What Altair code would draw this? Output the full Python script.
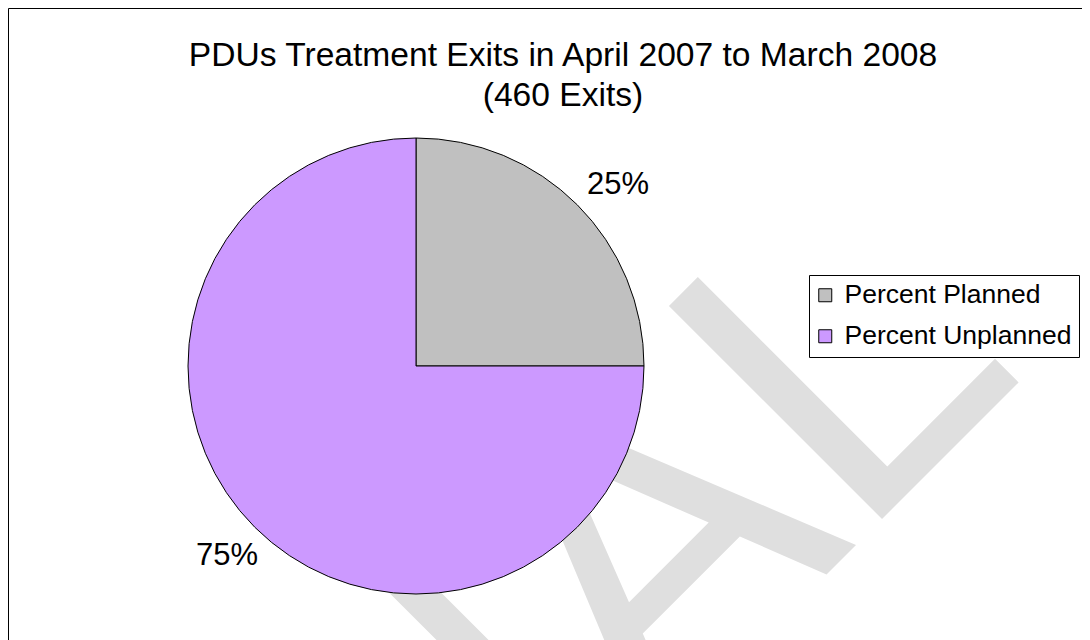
import altair as alt
import pandas as pd

# ---- data ----
categories = ["Percent Planned", "Percent Unplanned"]
values = [25, 75]
labels = ["25%", "75%"]
colors = ["#C0C0C0", "#CC99FF"]
title_lines = ["PDUs Treatment Exits in April 2007 to March 2008", "(460 Exits)"]
watermark = "FINAL"

df = pd.DataFrame({"Category": categories, "Value": values,
                   "Label": labels, "order": list(range(len(categories)))})
one = pd.DataFrame({"k": [0]})

FONT = "Liberation Sans"
W, H = 1074, 640
CX, CY, R = 408, 358, 228

wm = alt.Chart(one).mark_text(
    font=FONT, fontSize=438, angle=315, align="center", baseline="alphabetic",
    color="#DFDFDF"
).encode(text=alt.value(watermark), x=alt.value(582), y=alt.value(803))

pie = alt.Chart(df).mark_arc(radius=R, stroke="black", strokeWidth=1).encode(
    theta=alt.Theta("Value:Q", stack=True),
    order=alt.Order("order:Q"),
    color=alt.Color(
        "Category:N",
        scale=alt.Scale(domain=categories, range=colors),
        legend=alt.Legend(
            title=None, orient="none", legendX=801, legendY=267,
            symbolType="square", symbolSize=169, symbolStrokeColor="black",
            symbolStrokeWidth=1, symbolOffset=-4,
            labelFont=FONT, labelFontSize=26.5, labelColor="black",
            labelLimit=400, labelOffset=6, rowPadding=14, padding=7,
            strokeColor="black", fillColor="white",
        ),
    ),
    x=alt.value(CX), y=alt.value(CY),
)


def label_layer(cat, dx, dy):
    return alt.Chart(df).transform_joinaggregate(
        total="sum(Value)"
    ).transform_window(
        cum="sum(Value)", sort=[alt.SortField("order")]
    ).transform_calculate(
        mid="(datum.cum - datum.Value / 2) / datum.total"
    ).transform_filter(
        alt.datum.Category == cat
    ).mark_text(
        radius=270, font=FONT, fontSize=31, dx=dx, dy=dy,
        align="center", baseline="middle", color="black"
    ).encode(
        theta=alt.Theta("mid:Q", scale=alt.Scale(domain=[0, 1]), stack=None),
        text="Label:N",
        x=alt.value(CX), y=alt.value(CY),
    )


lab1 = label_layer(categories[0], 11, 10)
lab2 = label_layer(categories[1], 2, -1)

title = alt.Chart(one).mark_text(
    font=FONT, fontSize=33.6, align="center", baseline="alphabetic",
    lineHeight=40, color="black"
).encode(text=alt.value(title_lines), x=alt.value(555), y=alt.value(58))

chart = alt.layer(wm, pie, lab1, lab2, title).resolve_scale(
    theta="independent"
).properties(
    width=W, height=H, padding=0,
    autosize=alt.AutoSizeParams(type="none"),
).configure_view(stroke="black", strokeWidth=1)

chart.save("out.html", embed_options={"renderer": "svg", "actions": False})
